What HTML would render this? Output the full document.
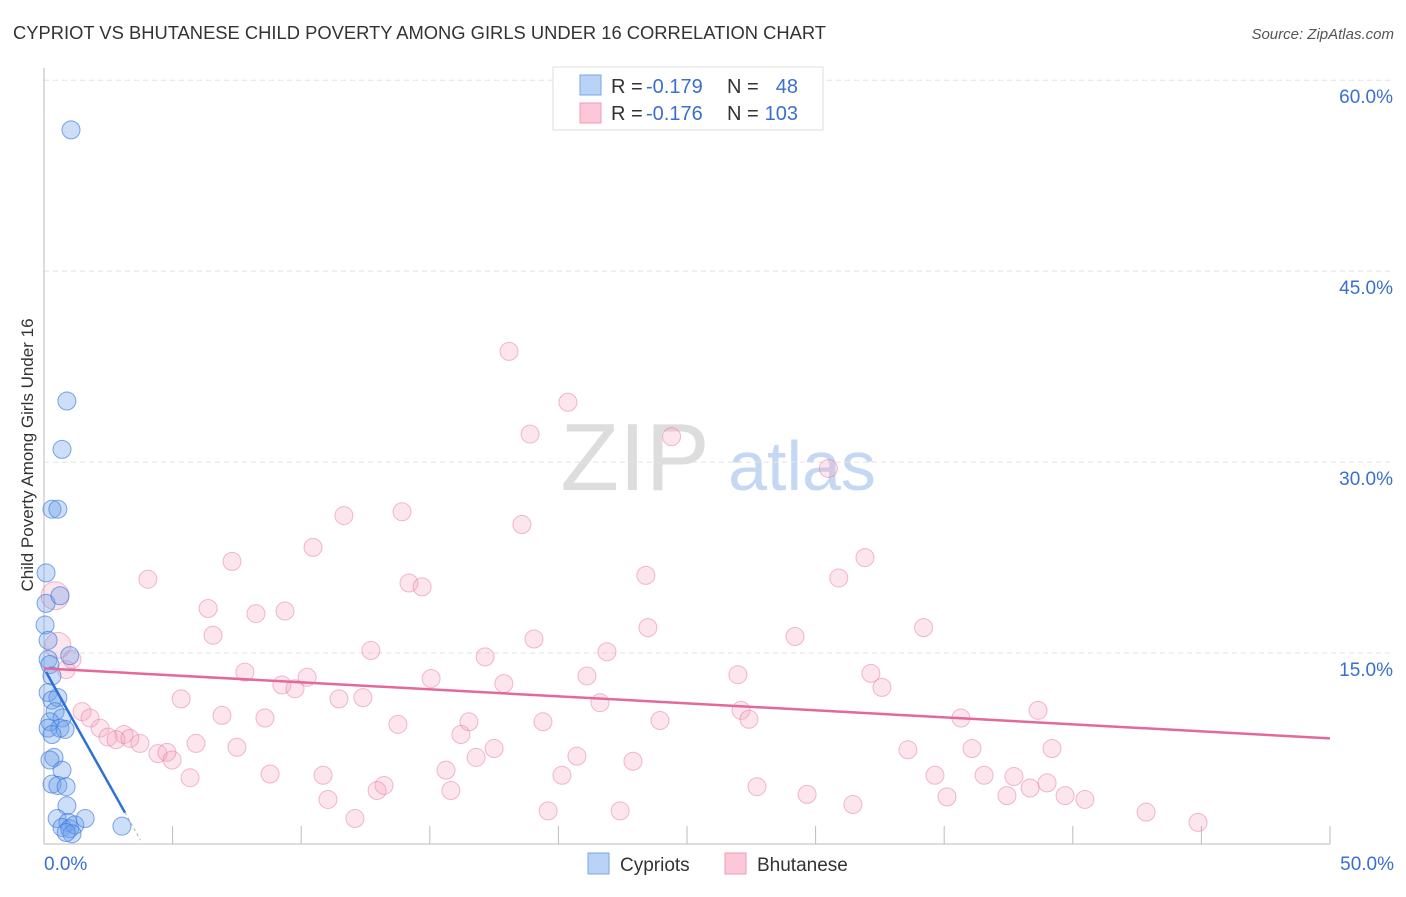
<!DOCTYPE html>
<html><head><meta charset="utf-8"><style>
body{margin:0;background:#fff;font-family:"Liberation Sans",sans-serif;}
svg text{font-family:"Liberation Sans",sans-serif;}
</style></head><body>
<svg id="chart" width="1406" height="892" xmlns="http://www.w3.org/2000/svg">
<text x="13" y="39" font-size="18" fill="#333" textLength="813" lengthAdjust="spacingAndGlyphs">CYPRIOT VS BHUTANESE CHILD POVERTY AMONG GIRLS UNDER 16 CORRELATION CHART</text>
<text x="1394" y="39" font-size="15" fill="#555" font-style="italic" text-anchor="end">Source: ZipAtlas.com</text>
<text transform="translate(33,455) rotate(-90)" font-size="17" fill="#333" text-anchor="middle">Child Poverty Among Girls Under 16</text>
<g>
<text x="635" y="490" font-size="96" font-family="Liberation Serif,serif" fill="#ddd" text-anchor="middle">ZIP</text>
<text x="802" y="490" font-size="70" fill="#c5d8f3" text-anchor="middle">atlas</text>
</g>
<g id="grid"></g><g id="axes"></g><g id="pts"></g><g id="trend"></g>
<g>
<rect x="553" y="67" width="270" height="63" fill="#fff" stroke="#ddd"/>
<rect x="580" y="75" width="21" height="20" fill="#b9d3f7" stroke="#7ba6e8"/>
<rect x="580" y="103" width="21" height="20" fill="#fcc8d8" stroke="#f09ab5"/>
<text x="611" y="93" font-size="20" fill="#333">R =</text>
<text x="646" y="93" font-size="20" fill="#3a6fd0">-0.179</text>
<text x="727" y="93" font-size="20" fill="#333">N =</text>
<text x="798" y="93" font-size="20" fill="#3a6fd0" text-anchor="end">48</text>
<text x="611" y="120" font-size="20" fill="#333">R =</text>
<text x="646" y="120" font-size="20" fill="#3a6fd0">-0.176</text>
<text x="727" y="120" font-size="20" fill="#333">N =</text>
<text x="798" y="120" font-size="20" fill="#3a6fd0" text-anchor="end">103</text>
</g>
<g>
<rect x="588" y="853" width="21" height="21" fill="#b9d3f7" stroke="#7ba6e8"/>
<text x="620" y="871" font-size="19" fill="#333">Cypriots</text>
<rect x="725" y="853" width="21" height="21" fill="#fcc8d8" stroke="#f09ab5"/>
<text x="757" y="871" font-size="19" fill="#333">Bhutanese</text>
</g>
</svg>
<script>
const yTicks=[15,30,45,60];
const yTickLabels=["15.0%","30.0%","45.0%","60.0%"];
const xTickLabels=["0.0%","50.0%"];
const cypX=[1.05,0.89,0.70,0.31,0.54,0.08,0.08,0.62,1.0,0.16,0.23,0.31,0.16,0.54,0.31,0.43,0.7,0.23,0.16,0.62,0.82,0.31,0.39,0.23,0.7,0.31,0.54,0.86,0.89,0.51,0.93,0.7,1.0,1.2,1.6,1.09,0.86,3.03,0.04,0.16];
const cypY=[56.1,34.8,31.0,26.3,26.3,21.3,18.9,19.5,14.8,14.5,14.1,13.2,11.9,11.5,11.3,10.4,9.9,9.6,9.1,9.1,9.0,8.6,6.8,6.6,5.8,4.7,4.6,4.5,3.0,2.0,1.7,1.3,1.2,1.5,2.0,0.8,0.9,1.4,17.2,16.0];
const bhuX=[18.08,20.37,18.9,24.4,30.5,11.66,13.92,18.58,10.46,7.31,31.92,4.04,23.4,30.9,14.19,14.7,6.38,8.24,9.37,6.57,19.05,29.2,23.48,34.2,12.71,21.89,17.15,7.81,15.05,21.11,32.15,26.98,9.25,9.76,10.23,17.88,32.58,5.33,11.47,12.4,21.62,1.48,1.79,6.92,8.59,27.1,27.41,35.65,38.65,13.76,16.52,19.4,23.95,2.18,3.11,2.49,3.73,5.91,7.5,4.43,4.78,4.98,17.5,16.21,33.59,36.08,39.19,20.72,16.8,22.9,5.68,8.79,10.85,15.63,20.14,34.64,36.55,37.71,39.0,27.72,13.22,12.95,15.82,29.67,35.11,37.44,38.34,39.7,40.47,31.45,11.04,12.09,19.6,22.4,42.85,44.87,0.43,0.54,0.86,1.09,2.8,3.34];
const bhuY=[38.7,34.7,32.2,32.0,29.5,25.8,26.1,25.1,23.3,22.2,22.5,20.8,21.1,20.9,20.5,20.2,18.5,18.1,18.3,16.4,16.1,16.3,17.0,17.0,15.2,15.1,14.7,13.5,13.0,13.2,13.4,13.3,12.5,12.2,13.1,12.6,12.3,11.4,11.4,11.5,11.1,10.4,9.9,10.1,9.9,10.5,9.8,9.9,10.5,9.4,9.6,9.6,9.7,9.1,8.6,8.4,7.9,7.9,7.6,7.1,7.2,6.6,7.5,8.6,7.4,7.5,7.5,6.9,6.8,6.5,5.2,5.5,5.4,5.8,5.4,5.4,5.4,5.3,4.8,4.5,4.6,4.2,4.2,3.9,3.7,3.8,4.4,3.8,3.5,3.1,3.5,2.0,2.6,2.6,2.5,1.7,19.5,15.6,13.7,14.5,8.2,8.3];
const bhuR=[];for(let i=0;i<bhuX.length;i++)bhuR.push(9);bhuR[96]=14;bhuR[97]=13;
const cypTrend=[13.8,-3.6];
const bhuTrend=[13.8,-0.11];
const NS="http://www.w3.org/2000/svg";
const X=v=>44+v*25.72, Y=v=>844-v*12.73;
function mk(p,t,a){const e=document.createElementNS(NS,t);for(const k in a)e.setAttribute(k,a[k]);document.getElementById(p).appendChild(e);return e;}
yTicks.forEach((t,i)=>{
 const g=mk('grid','line',{x1:44,x2:1394,y1:Y(t),y2:Y(t),stroke:'#e2e2e2','stroke-dasharray':'5,4'});
 
 
 const l=mk('axes','text',{x:1393,y:Y(t)+23,'font-size':19,fill:'#3a6fd0','text-anchor':'end'});
 l.textContent=yTickLabels[i];
 
 
});
mk('axes','line',{x1:44,x2:44,y1:68,y2:844,stroke:'#bbb'});
mk('axes','line',{x1:44,x2:1330,y1:844,y2:844,stroke:'#bbb'});
for(let i=1;i<=10;i++){const t=mk('axes','line',{x1:X(i*5),x2:X(i*5),y1:826,y2:844,stroke:'#bbb'});
 
 }
[[0,'start',44],[50,'end',1394]].forEach((d,i)=>{const l=mk('axes','text',{x:d[2],y:870,'font-size':19,fill:'#3a6fd0','text-anchor':d[1]});l.textContent=xTickLabels[i];
 
 });
bhuX.forEach((x,i)=>{const c=mk('pts','circle',{cx:X(x),cy:Y(bhuY[i]),r:bhuR[i],fill:'rgba(244,160,190,0.28)',stroke:'rgba(230,120,160,0.5)','stroke-width':1});
 
 });
cypX.forEach((x,i)=>{const c=mk('pts','circle',{cx:X(x),cy:Y(cypY[i]),r:9,fill:'rgba(110,160,235,0.35)',stroke:'rgba(60,120,220,0.65)','stroke-width':1});
 
 });
const pl=mk('trend','line',{x1:X(0),y1:Y(bhuTrend[0]),x2:X(50),y2:Y(bhuTrend[0]+50*bhuTrend[1]),stroke:'#e5689a','stroke-width':2.5});


const bl=mk('trend','line',{x1:X(0.08),y1:Y(cypTrend[0]+0.08*cypTrend[1]),x2:X(3.15),y2:Y(cypTrend[0]+3.15*cypTrend[1]),stroke:'#2f6fd6','stroke-width':2.5});


const bd=mk('trend','line',{x1:X(3.15),y1:Y(cypTrend[0]+3.15*cypTrend[1]),x2:X(3.75),y2:Y(cypTrend[0]+3.75*cypTrend[1]),stroke:'#aac','stroke-width':1,'stroke-dasharray':'3,3'});


</script>
</body></html>
